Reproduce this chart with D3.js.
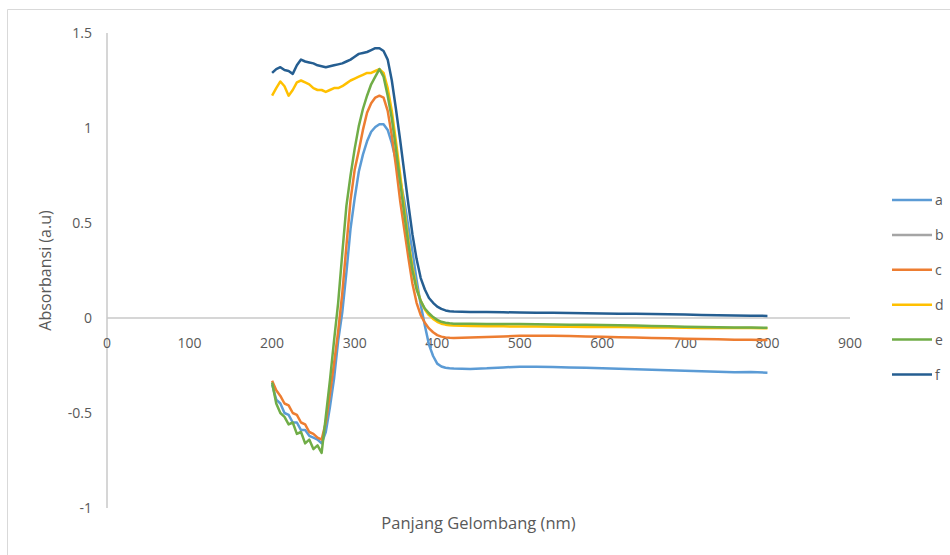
<!DOCTYPE html>
<html>
<head>
<meta charset="utf-8">
<script src="https://cdn.jsdelivr.net/npm/d3@7"></script>
<style>
    body { margin: 0; background: #fff; }
    text { font-family: "Open Sans", "Noto Sans", sans-serif; fill: #595959; }
</style>
</head>
<body>
<svg id="chart" width="950" height="555"></svg>
<script>
// Panjang gelombang (nm)
const wavelength = [
    200, 205, 210, 215, 220, 225, 230, 235, 240, 245, 250, 255, 260, 265, 270,
    275, 280, 285, 290, 295, 300, 305, 310, 315, 320, 325, 330, 335, 340, 345,
    350, 355, 360, 365, 370, 375, 380, 385, 390, 395, 400, 405, 410, 415, 420,
    440, 460, 480, 500, 520, 540, 560, 580, 600, 620, 640, 660, 680, 700, 720,
    740, 760, 780, 800
];

const seriesA = [
    -0.35, -0.43, -0.45, -0.50, -0.51, -0.55, -0.55, -0.59, -0.59, -0.62, -0.63, -0.64, -0.66, -0.60, -0.47,
    -0.32, -0.12, 0.03, 0.24, 0.47, 0.63, 0.77, 0.86, 0.93, 0.98, 1.005, 1.02, 1.02, 0.99, 0.92,
    0.83, 0.73, 0.62, 0.48, 0.35, 0.20, 0.07, -0.04, -0.14, -0.20, -0.24, -0.255, -0.262, -0.265, -0.266,
    -0.268, -0.265, -0.26, -0.256, -0.257, -0.258, -0.26, -0.262, -0.265, -0.267, -0.27, -0.272, -0.275, -0.277, -0.28,
    -0.283, -0.285, -0.284, -0.288
];

const seriesB = [];

const seriesC = [
    -0.33, -0.38, -0.41, -0.45, -0.46, -0.50, -0.51, -0.55, -0.56, -0.60, -0.61, -0.63, -0.64, -0.55, -0.40,
    -0.24, -0.07, 0.13, 0.38, 0.62, 0.78, 0.88, 0.99, 1.08, 1.13, 1.16, 1.17, 1.16, 1.09, 0.96,
    0.80, 0.62, 0.47, 0.32, 0.18, 0.08, 0.015, -0.025, -0.055, -0.075, -0.09, -0.098, -0.102, -0.104, -0.105,
    -0.103, -0.10, -0.097, -0.094, -0.093, -0.094, -0.095, -0.097, -0.099, -0.101, -0.103, -0.105, -0.107, -0.109, -0.111,
    -0.112, -0.114, -0.115, -0.116
];

const seriesD = [
    1.17, 1.21, 1.245, 1.22, 1.17, 1.20, 1.24, 1.25, 1.24, 1.23, 1.21, 1.20, 1.20, 1.19, 1.20,
    1.21, 1.21, 1.22, 1.235, 1.25, 1.26, 1.27, 1.28, 1.29, 1.29, 1.30, 1.31, 1.29, 1.21, 1.09,
    0.93, 0.76, 0.58, 0.41, 0.27, 0.16, 0.09, 0.045, 0.015, -0.005, -0.02, -0.03, -0.035, -0.038, -0.04,
    -0.042, -0.043, -0.044, -0.045, -0.045, -0.046, -0.046, -0.047, -0.047, -0.048, -0.049, -0.05, -0.05, -0.051, -0.052,
    -0.052, -0.053, -0.053, -0.054
];

const seriesE = [
    -0.34, -0.45, -0.50, -0.52, -0.56, -0.55, -0.61, -0.60, -0.66, -0.64, -0.69, -0.67, -0.71, -0.52, -0.33,
    -0.12, 0.08, 0.34, 0.59, 0.75, 0.89, 1.01, 1.10, 1.17, 1.23, 1.27, 1.31, 1.27, 1.17, 1.05,
    0.89, 0.72, 0.55, 0.39, 0.25, 0.15, 0.09, 0.05, 0.025, 0.005, -0.01, -0.02, -0.025, -0.028, -0.03,
    -0.03, -0.031, -0.032, -0.032, -0.033, -0.034, -0.035, -0.036, -0.037, -0.038, -0.04, -0.042, -0.044, -0.046, -0.047,
    -0.049, -0.05, -0.05, -0.051
];

const seriesF = [
    1.29, 1.31, 1.32, 1.305, 1.30, 1.285, 1.33, 1.36, 1.35, 1.345, 1.34, 1.33, 1.325, 1.32, 1.325,
    1.33, 1.335, 1.34, 1.35, 1.36, 1.375, 1.39, 1.395, 1.40, 1.41, 1.42, 1.42, 1.405, 1.36, 1.25,
    1.10, 0.94, 0.77, 0.60, 0.44, 0.31, 0.21, 0.15, 0.105, 0.08, 0.06, 0.048, 0.04, 0.036, 0.034,
    0.032, 0.031, 0.03, 0.029, 0.028, 0.027, 0.026, 0.025, 0.024, 0.023, 0.022, 0.021, 0.02, 0.018, 0.016,
    0.015, 0.013, 0.012, 0.011
];

const seriesNames = ["a", "b", "c", "d", "e", "f"];
const seriesValues = [seriesA, seriesB, seriesC, seriesD, seriesE, seriesF];
const colors = ["#5B9BD5", "#A5A5A5", "#ED7D31", "#FFC000", "#70AD47", "#255E91"];

const xTicks = [0, 100, 200, 300, 400, 500, 600, 700, 800, 900];
const yTicks = [-1, -0.5, 0, 0.5, 1, 1.5];

const svg = d3.select("#chart");

// Bingkai grafik
svg.append("path")
    .attr("d", "M7.5,555 V9.5 H950")
    .attr("fill", "none")
    .attr("stroke", "#D9D9D9")
    .attr("stroke-width", 1);

const x = d3.scaleLinear().domain([0, 900]).range([107, 850]);
const y = d3.scaleLinear().domain([-1, 1.5]).range([508, 33]);

// Sumbu Y
svg.append("line")
    .attr("x1", x(0)).attr("x2", x(0))
    .attr("y1", y(1.5)).attr("y2", y(-1))
    .attr("stroke", "#C8C8C8")
    .attr("stroke-width", 1.5);

svg.selectAll(".ylabel")
    .data(yTicks)
    .enter()
    .append("text")
    .attr("class", "ylabel")
    .attr("x", 92)
    .attr("y", d => y(d) + 5)
    .attr("text-anchor", "end")
    .style("font-size", "14px")
    .text(d => d);

// Sumbu X (melalui 0)
svg.append("line")
    .attr("x1", x(0)).attr("x2", x(900))
    .attr("y1", y(0)).attr("y2", y(0))
    .attr("stroke", "#C8C8C8")
    .attr("stroke-width", 1.5);

svg.selectAll(".xlabel")
    .data(xTicks)
    .enter()
    .append("text")
    .attr("class", "xlabel")
    .attr("x", d => x(d))
    .attr("y", y(0) + 30)
    .attr("text-anchor", "middle")
    .style("font-size", "14px")
    .text(d => d);

// Garis data
const line = d3.line()
    .x((d, i) => x(wavelength[i]))
    .y(d => y(d));

seriesValues.forEach((vals, k) => {
    if (vals.length === 0) return;
    svg.append("path")
        .datum(vals)
        .attr("fill", "none")
        .attr("stroke", colors[k])
        .attr("stroke-width", 2.5)
        .attr("stroke-linejoin", "round")
        .attr("d", line);
});

// Judul sumbu
svg.append("text")
    .attr("x", (x(0) + x(900)) / 2)
    .attr("y", 529)
    .attr("text-anchor", "middle")
    .style("font-size", "16.5px")
    .text("Panjang Gelombang (nm)");

svg.append("text")
    .attr("transform", "translate(51," + ((y(1.5) + y(-1)) / 2) + ") rotate(-90)")
    .attr("text-anchor", "middle")
    .style("font-size", "16px")
    .text("Absorbansi (a.u)");

// Legenda
const legend = svg.selectAll(".legend")
    .data(seriesNames)
    .enter()
    .append("g")
    .attr("class", "legend")
    .attr("transform", (d, i) => "translate(892," + (200 + i * 34.9) + ")");

legend.append("line")
    .attr("x1", 0).attr("x2", 40)
    .attr("y1", 0).attr("y2", 0)
    .attr("stroke", (d, i) => colors[i])
    .attr("stroke-width", 2.5);

legend.append("text")
    .attr("x", 43)
    .attr("y", 5)
    .style("font-size", "14px")
    .text(d => d);
</script>
</body>
</html>
